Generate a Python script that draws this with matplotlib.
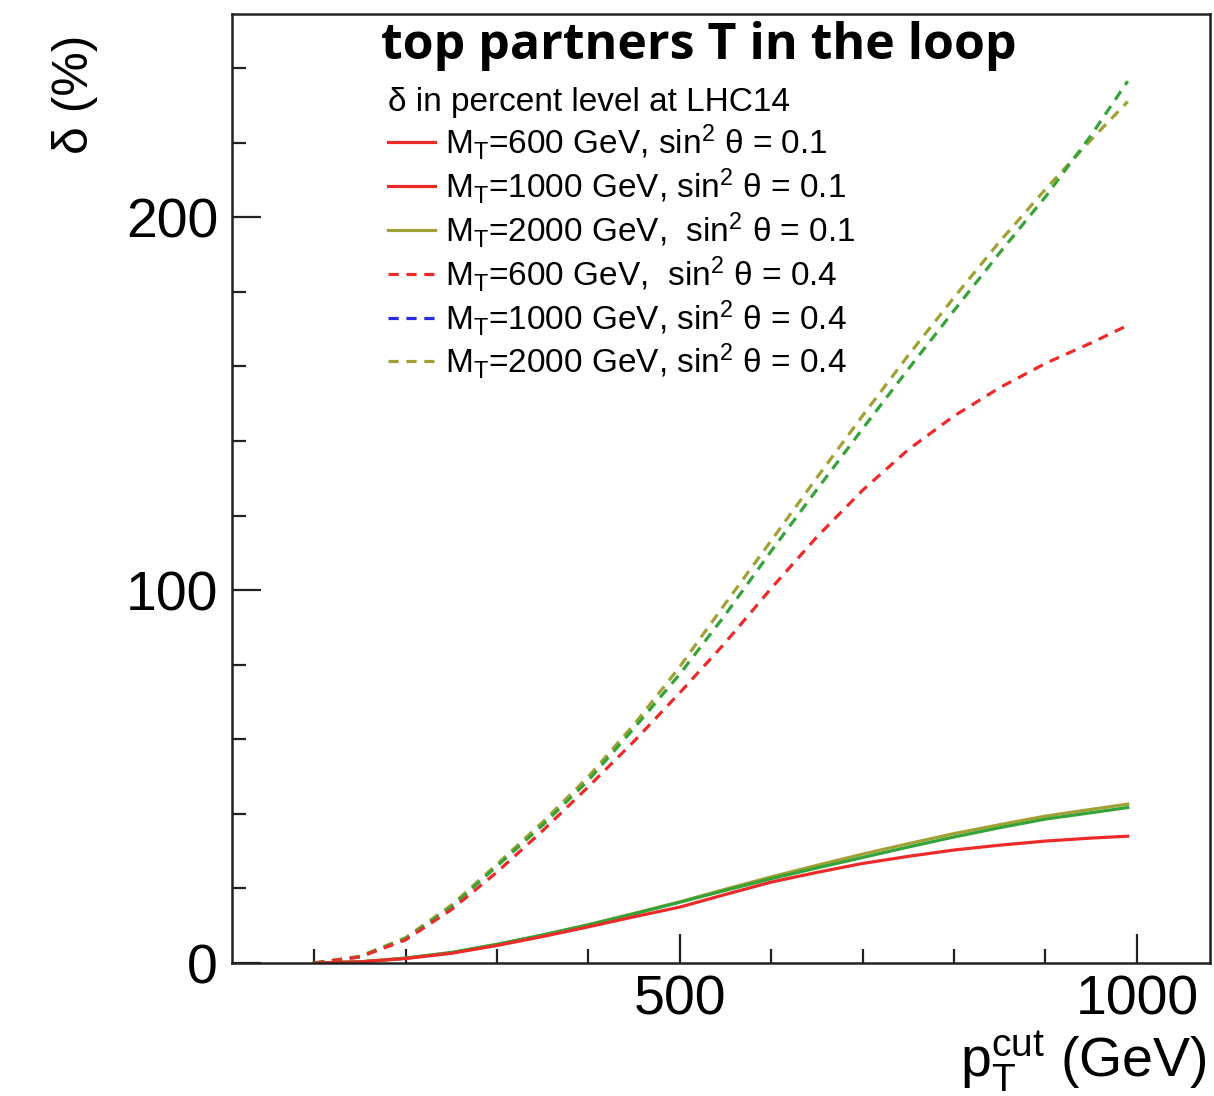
import matplotlib
matplotlib.use("Agg")
import matplotlib.pyplot as plt
from matplotlib.lines import Line2D
from matplotlib.ticker import MultipleLocator

plt.rcParams["font.family"] = ["Liberation Sans", "DejaVu Sans"]
plt.rcParams["mathtext.fontset"] = "custom"
plt.rcParams["mathtext.rm"] = "Liberation Sans"
plt.rcParams["mathtext.it"] = "Liberation Sans:italic"

# pT cut values (GeV)
pt_cut = [100, 150, 200, 250, 300, 350, 400, 450, 500, 550, 600, 650,
          700, 750, 800, 850, 900, 950, 990]

# sin^2 theta = 0.1 (solid)
solid_600 = [0, 0.3, 1.2, 2.6, 4.7, 7.1, 9.7, 12.4, 15.0, 18.4, 21.7, 24.3,
             26.7, 28.6, 30.3, 31.6, 32.7, 33.5, 34.0]
solid_1000 = [0, 0.3, 1.3, 2.8, 5.0, 7.5, 10.2, 13.2, 16.3, 19.5, 22.6, 25.5,
              28.3, 31.1, 33.8, 36.3, 38.6, 40.3, 41.7]
solid_2000 = [0, 0.3, 1.3, 2.8, 5.0, 7.5, 10.3, 13.3, 16.4, 19.8, 23.1, 26.2,
              29.2, 32.0, 34.7, 37.1, 39.4, 41.2, 42.6]

# sin^2 theta = 0.4 (dashed)
dashed_600 = [0, 1.6, 6.2, 14.3, 24.4, 35.5, 47.3, 59.5, 72.5, 86, 100.5,
              114.3, 126.8, 137.7, 146.7, 154.3, 160.8, 166.3, 171]
dashed_1000 = [0, 1.7, 6.5, 15.0, 26.0, 37.0, 49.0, 63, 77.5, 93.5, 110.5,
               127, 143.3, 159.3, 175, 190.5, 205.5, 222, 236.5]
dashed_2000 = [0, 1.8, 6.8, 15.5, 26.5, 37.8, 50, 64, 79.5, 96.5, 113.3,
               130.2, 146.8, 163, 178.5, 193.5, 207.5, 220.8, 231]

legend_title = "δ in percent level at LHC14"
legend_labels = [
    r"M$_\mathrm{T}$=600 GeV, sin$^2$ θ = 0.1",
    r"M$_\mathrm{T}$=1000 GeV, sin$^2$ θ = 0.1",
    r"M$_\mathrm{T}$=2000 GeV,  sin$^2$ θ = 0.1",
    r"M$_\mathrm{T}$=600 GeV,  sin$^2$ θ = 0.4",
    r"M$_\mathrm{T}$=1000 GeV, sin$^2$ θ = 0.4",
    r"M$_\mathrm{T}$=2000 GeV, sin$^2$ θ = 0.4",
]

RED = "#ec2a2a"
GREEN = "#34a338"
OLIVE = "#a0a035"
BLUE = "#2a2ae0"
DASH = (0, (3.2, 2.4))

fig = plt.figure(figsize=(12.14, 10.96), dpi=100)
ax = fig.add_axes([232 / 1214, 1 - 963 / 1096, (1210 - 232) / 1214, (963 - 14) / 1096])

lw = 2.3
ax.plot(pt_cut, dashed_2000, color=OLIVE, lw=lw, ls=DASH)
ax.plot(pt_cut, dashed_1000, color=GREEN, lw=lw, ls=DASH)
ax.plot(pt_cut, dashed_600, color=RED, lw=lw, ls=DASH)
ax.plot(pt_cut, solid_2000, color=OLIVE, lw=lw)
ax.plot(pt_cut, solid_1000, color=GREEN, lw=lw)
ax.plot(pt_cut, solid_600, color=RED, lw=lw)

ax.set_xlim(10, 1080)
ax.set_ylim(0, 254.5)

ax.xaxis.set_major_locator(MultipleLocator(500))
ax.xaxis.set_minor_locator(MultipleLocator(100))
ax.yaxis.set_major_locator(MultipleLocator(100))
ax.yaxis.set_minor_locator(MultipleLocator(20))
ax.tick_params(which="both", direction="in", top=False, right=False,
               width=1.6, colors="#222222", labelcolor="black")
ax.tick_params(which="major", length=21, labelsize=40)
ax.tick_params(which="minor", length=10)
ax.tick_params(axis="x", which="major", pad=8)
ax.tick_params(axis="y", which="major", pad=10)
for sp in ax.spines.values():
    sp.set_linewidth(1.8)
    sp.set_color("#222222")

handles = [
    Line2D([], [], color=RED, lw=lw),
    Line2D([], [], color=RED, lw=lw),
    Line2D([], [], color=OLIVE, lw=lw),
    Line2D([], [], color=RED, lw=lw, ls=DASH),
    Line2D([], [], color=BLUE, lw=lw, ls=DASH),
    Line2D([], [], color=OLIVE, lw=lw, ls=DASH),
]
leg = ax.legend(handles, legend_labels, title=legend_title,
                loc="upper left", bbox_to_anchor=(388 / 1214, 1 - 87 / 1096),
                bbox_transform=fig.transFigure, frameon=False, fontsize=24,
                title_fontsize=24, handlelength=1.42, handletextpad=0.3,
                labelspacing=0.12, borderpad=0, borderaxespad=0,
                alignment="left")

fig.text(699 / 1214, 1 - 46 / 1096, "top partners T in the loop",
         ha="center", va="center", fontsize=36, fontweight="bold",
         family=["Open Sans", "DejaVu Sans"])
fig.text(75 / 1214, 1 - 35 / 1096, "δ (%)", rotation=90, ha="center",
         va="top", fontsize=36)
fig.text(1207 / 1214, 1 - 1062 / 1096, r"p$_\mathrm{T}^\mathrm{cut}$ (GeV)",
         ha="right", va="center", fontsize=40)

fig.savefig("out.png", dpi=100)
